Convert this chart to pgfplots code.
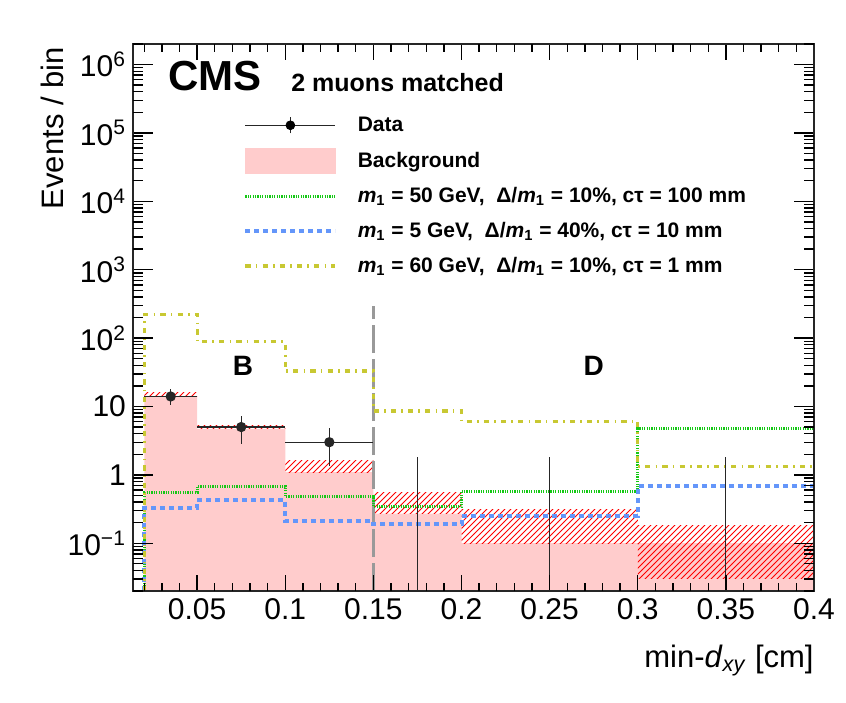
\documentclass[border=0pt]{standalone}
\usepackage{fontspec}
\setmainfont{Liberation Sans}
\usepackage{pgfplots}
\pgfplotsset{compat=1.18}
\usetikzlibrary{patterns}

\definecolor{bgpink}{RGB}{255,204,204}
\definecolor{sigg}{RGB}{20,200,20}
\definecolor{sigb}{RGB}{100,150,250}
\definecolor{sigy}{RGB}{200,200,50}

\tikzset{
  gsty/.style={sigg, line width=1.5pt, dash pattern=on 0.6pt off 0.6pt},
  bsty/.style={sigb, line width=2pt, dash pattern=on 2.5pt off 2pt},
  ysty/.style={sigy, line width=1.6pt, dash pattern=on 2.6pt off 2.6pt on 0.8pt off 2.6pt},
}

% hatched background uncertainty for one bin: x0, x1, lo, hi
\newcommand\band[4]{\addplot[draw=none, pattern=north east lines, pattern color=red, forget plot]
  coordinates {(#1,#3) (#2,#3) (#2,#4) (#1,#4)} -- cycle;}

\begin{document}
\begin{tikzpicture}
\begin{axis}[
  at={(0,0)}, anchor=south west,
  scale only axis, width=340.5pt, height=273.5pt,
  xmin=0.0136, xmax=0.4, ymin=0.02, ymax=2e6,
  ymode=log, log basis y=10,
  axis on top,
  xtick={0.05,0.1,0.15,0.2,0.25,0.3,0.35,0.4},
  xticklabels={0.05,0.1,0.15,0.2,0.25,0.3,0.35,0.4},
  ytick={0.1,1,10,100,1000,10000,100000,1000000},
  yticklabels={10\textsuperscript{−1},1,10,10\textsuperscript{2},10\textsuperscript{3},10\textsuperscript{4},10\textsuperscript{5},10\textsuperscript{6}},
  % minor ticks as unlabelled extra ticks
  extra x ticks={0.02,0.03,0.04,0.06,0.07,0.08,0.09,0.11,0.12,0.13,0.14,0.16,0.17,0.18,0.19,
    0.21,0.22,0.23,0.24,0.26,0.27,0.28,0.29,0.31,0.32,0.33,0.34,0.36,0.37,0.38,0.39},
  extra x tick labels={},
  extra x tick style={xtick style={/pgfplots/major tick length=4pt}},
  extra y ticks={0.02,0.03,0.04,0.05,0.06,0.07,0.08,0.09,
    0.2,0.3,0.4,0.5,0.6,0.7,0.8,0.9, 2,3,4,5,6,7,8,9,
    20,30,40,50,60,70,80,90, 200,300,400,500,600,700,800,900,
    2000,3000,4000,5000,6000,7000,8000,9000,
    20000,30000,40000,50000,60000,70000,80000,90000,
    200000,300000,400000,500000,600000,700000,800000,900000,2000000},
  extra y tick labels={},
  extra y tick style={ytick style={/pgfplots/major tick length=5pt}},
  tick align=inside, tick pos=both,
  major tick length=8pt,
  ytick style={/pgfplots/major tick length=10pt},
  tick style={black, line width=0.7pt},
  axis line style={line width=1pt, black!85},
  tick label style={font=\fontsize{15}{18}\selectfont},
  /pgf/number format/assume math mode=true,
  xlabel={min-\textit{d}\textsubscript{\textit{xy}} [cm]},
  ylabel={Events / bin},
  label style={font=\fontsize{15.5}{18}\selectfont},
  xlabel style={at={(rel axis cs:1,-0.139)}, anchor=base east, inner sep=0pt},
  ylabel style={at={(rel axis cs:-0.119,1.007)}, anchor=east},
  legend cell align=left,
  legend style={at={(rel axis cs:0.1615,0.875)}, anchor=north west,
    draw=none, fill=none, inner sep=0pt, row sep=5pt, column sep=0pt,
    font=\bfseries\fontsize{10.5}{12}\selectfont,
    nodes={inner sep=0pt, text height=9.5pt, text depth=3pt}},
]
% background
\addplot[const plot mark right, fill=bgpink, draw=none, forget plot]
  coordinates {(0.02,0.02) (0.05,14) (0.1,4.7) (0.15,1.1) (0.2,0.27) (0.3,0.1) (0.4,0.1) (0.4,0.02)} -- cycle;
\band{0.02}{0.05}{14}{16.1}
\band{0.05}{0.1}{4.7}{5.2}
\band{0.1}{0.15}{1.1}{1.64}
\band{0.15}{0.2}{0.27}{0.55}
\band{0.2}{0.3}{0.1}{0.31}
\band{0.3}{0.4}{0.03}{0.18}
% region boundary
\addplot[gray!80, line width=1.5pt, dash pattern=on 14pt off 3pt, forget plot]
  coordinates {(0.15,0.02) (0.15,297)};
% signals
\addplot[const plot mark right, gsty, forget plot]
  coordinates {(0.02,0.02) (0.05,0.55) (0.1,0.68) (0.15,0.48) (0.2,0.34) (0.3,0.58) (0.4,4.7)};
\addplot[const plot mark right, bsty, forget plot]
  coordinates {(0.02,0.02) (0.05,0.33) (0.1,0.43) (0.15,0.21) (0.2,0.19) (0.3,0.25) (0.4,0.68)};
\addplot[const plot mark right, ysty, forget plot]
  coordinates {(0.02,0.02) (0.05,220) (0.1,88) (0.15,33) (0.2,8.6) (0.3,6.1) (0.4,1.34)};
% data
\addplot[black!85, line width=0.7pt, only marks, mark=*, mark size=2.2pt, forget plot,
  error bars/.cd, x dir=both, x explicit, y dir=both, y explicit, error mark=none,
  error bar style={black!85, line width=0.7pt}]
  table[x=x, y=y, x error=ex, y error plus=eyp, y error minus=eym] {
  x     y   ex    eyp   eym
  0.035 14  0.015 3.9   3.5
  0.075 5   0.025 2.3   2.2
  0.125 3   0.025 1.77  1.65
};
% empty bins: upper error only
\addplot[black!85, line width=0.6pt, unbounded coords=jump, forget plot]
  coordinates {(0.175,0.02) (0.175,1.8) (0.175,nan) (0.25,0.02) (0.25,1.8) (0.25,nan) (0.35,0.02) (0.35,1.8)};

\addlegendimage{legend image code/.code={
  \draw[black!85, line width=0.7pt] (0pt,0pt) -- (45pt,0pt) (22.5pt,-4pt) -- (22.5pt,4pt);
  \fill[black] (22.5pt,0pt) circle (2.2pt); \path (56pt,0pt);}}
\addlegendentry{Data}
\addlegendimage{legend image code/.code={
  \fill[bgpink] (0pt,-6.25pt) rectangle (45pt,6.25pt); \path (56pt,0pt);}}
\addlegendentry{Background}
\addlegendimage{legend image code/.code={
  \draw[gsty] (0pt,0pt) -- (45pt,0pt); \path (56pt,0pt);}}
\addlegendentry{\textit{m}\textsubscript{1} = 50 GeV,\ \ Δ/\textit{m}\textsubscript{1} = 10\%, cτ = 100 mm}
\addlegendimage{legend image code/.code={
  \draw[bsty] (0pt,0pt) -- (45pt,0pt); \path (56pt,0pt);}}
\addlegendentry{\textit{m}\textsubscript{1} = 5 GeV,\ \ Δ/\textit{m}\textsubscript{1} = 40\%, cτ = 10 mm}
\addlegendimage{legend image code/.code={
  \draw[ysty] (0pt,0pt) -- (45pt,0pt); \path (56pt,0pt);}}
\addlegendentry{\textit{m}\textsubscript{1} = 60 GeV,\ \ Δ/\textit{m}\textsubscript{1} = 10\%, cτ = 1 mm}

\node[anchor=base west, inner sep=0pt, font=\bfseries\fontsize{21}{24}\selectfont] at (rel axis cs:0.051,0.915) {CMS};
\node[anchor=base west, inner sep=0pt, font=\bfseries\fontsize{12.5}{15}\selectfont] at (rel axis cs:0.232,0.913) {2 muons matched};
\node[font=\bfseries\fontsize{14}{17}\selectfont] at (axis cs:0.076,39) {B};
\node[font=\bfseries\fontsize{14}{17}\selectfont] at (axis cs:0.275,39) {D};
\node[anchor=base east, inner sep=0pt, font=\fontsize{17}{20}\selectfont] at (rel axis cs:1,1.02) {138 fb\textsuperscript{-1} (13 TeV)};
\end{axis}
\pgfresetboundingbox
\path (-66.5pt,-55.5pt) rectangle (356.5pt,295.5pt);
\end{tikzpicture}
\end{document}
